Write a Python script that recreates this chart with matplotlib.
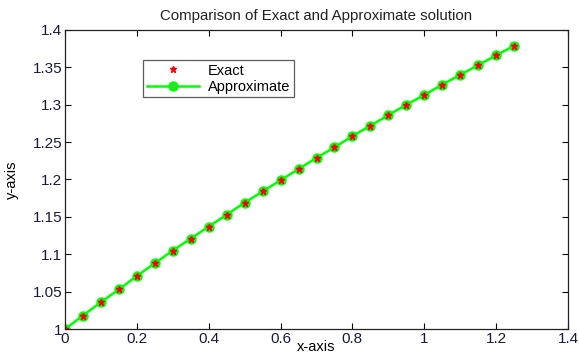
import numpy as np
import matplotlib.pyplot as plt

plt.rcParams['font.family'] = ['Liberation Sans', 'DejaVu Sans']

# data
x_vals = np.array([0, 0.05, 0.1, 0.15, 0.2, 0.25, 0.3, 0.35, 0.4, 0.45, 0.5, 0.55, 0.6,
                   0.65, 0.7, 0.75, 0.8, 0.85, 0.9, 0.95, 1.0, 1.05, 1.1, 1.15, 1.2, 1.25])
y_exact = np.array([1.000, 1.018, 1.036, 1.053, 1.071, 1.088, 1.105, 1.121, 1.137, 1.153,
                    1.169, 1.184, 1.199, 1.214, 1.229, 1.243, 1.258, 1.272, 1.286, 1.300,
                    1.313, 1.327, 1.340, 1.353, 1.366, 1.379])
y_approx = y_exact.copy()

x_ticks = [0, 0.2, 0.4, 0.6, 0.8, 1, 1.2, 1.4]
x_ticklabels = ['0', '0.2', '0.4', '0.6', '0.8', '1', '1.2', '1.4']
y_ticks = [1, 1.05, 1.1, 1.15, 1.2, 1.25, 1.3, 1.35, 1.4]
y_ticklabels = ['1', '1.05', '1.1', '1.15', '1.2', '1.25', '1.3', '1.35', '1.4']

fig = plt.figure(figsize=(5.79, 3.56), dpi=100)
ax = fig.add_axes([0.1123, 0.0758, 0.8687, 0.84])

lime = '#00ff00'
h_app, = ax.plot(x_vals, y_approx, '-', color=lime, lw=1.8, marker='o', ms=6,
                 mfc='#33dd33', mec=lime, mew=1.5, label='Approximate')
h_ex, = ax.plot(x_vals, y_exact, '*', color='red', ms=4.5, ls='none', label='Exact')

ax.set_xlim(0, 1.4)
ax.set_ylim(1, 1.4)
ax.set_xticks(x_ticks)
ax.set_xticklabels(x_ticklabels)
ax.set_yticks(y_ticks)
ax.set_yticklabels(y_ticklabels)
ax.tick_params(direction='in', top=True, right=True, labelsize=11, length=4,
               labelcolor='#1a1a40', pad=2)
for s in ax.spines.values():
    s.set_linewidth(0.9)
    s.set_color('#222222')

ax.set_title('Comparison of Exact and Approximate solution', fontsize=10.8, color='#222222', pad=7)
ax.set_xlabel('x-axis', fontsize=10.5, labelpad=-4)
ax.set_ylabel('y-axis', fontsize=10.5, labelpad=10)

leg = ax.legend([h_ex, h_app], ['Exact', 'Approximate'], loc='upper left',
                bbox_to_anchor=(0.155, 0.9), fontsize=10.5, frameon=True, fancybox=False,
                edgecolor='#333333', borderpad=0.25, handlelength=3.6, handletextpad=0.6,
                labelspacing=0.15, borderaxespad=0)
leg.get_frame().set_linewidth(0.9)

fig.savefig('out.png', dpi=100)
